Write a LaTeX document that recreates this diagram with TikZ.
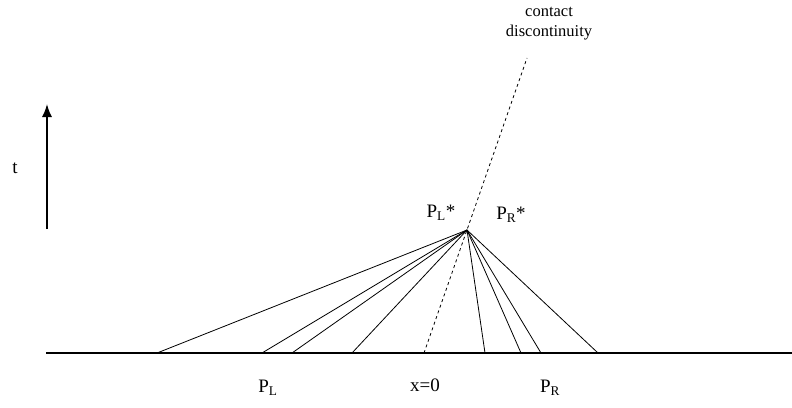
\documentclass[tikz,border=0pt]{standalone}
\usepackage{fontspec}
\setmainfont{Liberation Serif}
\usetikzlibrary{arrows.meta}
\begin{document}
\begin{tikzpicture}[x=1pt, y=-1pt, >={Latex[length=13pt,width=10pt]}]
    \useasboundingbox (0,0) rectangle (792,407);
    \tikzset{lbl/.style={font=\fontsize{19}{19}\selectfont, inner sep=0pt},
             ray/.style={line width=0.8pt}}

    % 1. Truc x va mui ten thoi gian
    \coordinate (axL) at (46,353);
    \coordinate (axR) at (792,353);
    \draw[line width=1.8pt] (axL) -- (axR);
    \coordinate (tlo) at (47,229);
    \coordinate (thi) at (47,104);
    \draw[->, line width=1.6pt] (tlo) -- (thi);
    \node[lbl] (t) at (15,168) {t};

    % 2. Dinh chung va cac tia
    \coordinate (O) at (467,230);
    \foreach \xx [count=\i] in {157,262,292,352,485,521,541,598}
        \coordinate (b\i) at (\xx,353);
    \foreach \i in {1,...,8}
        \draw[ray] (O) -- (b\i);

    % 3. Gian doan tiep xuc (net dut)
    \coordinate (c0) at (424,353);
    \coordinate (c1) at (527,58);
    \draw[dashed, line width=0.8pt] (c0) -- (c1);
    \node[font=\fontsize{16.5}{20}\selectfont, align=center, inner sep=0pt] (cd) at (549,24)
        {contact\\discontinuity};

    % 4. Nhan
    \node[lbl] (PLs) at (441,213) {P\textsubscript{L}*};
    \node[lbl] (PRs) at (511,215) {P\textsubscript{R}*};
    \node[lbl] (PL) at (268,388) {P\textsubscript{L}};
    \node[lbl] (x0) at (425,385) {x=0};
    \node[lbl] (PR) at (550,388) {P\textsubscript{R}};
\end{tikzpicture}
\end{document}
